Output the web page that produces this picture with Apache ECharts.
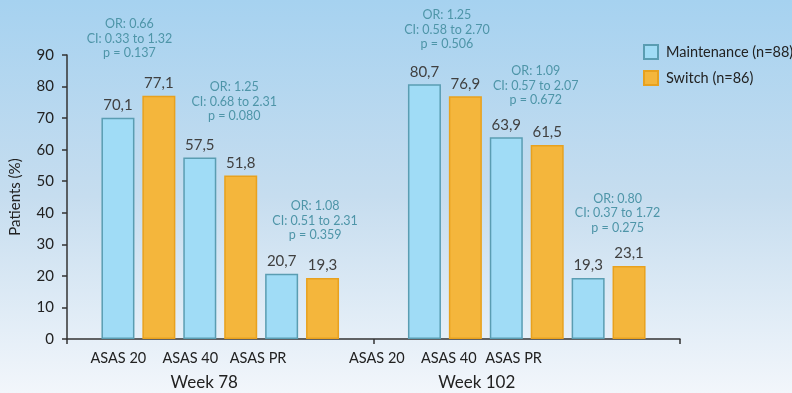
<!DOCTYPE html>
<html>
<head>
<meta charset="utf-8">
<script src="https://cdn.jsdelivr.net/npm/echarts@6/dist/echarts.min.js"></script>
<style>
  html, body { margin: 0; padding: 0; }
  #chart { width: 792px; height: 393px; }
</style>
</head>
<body>
<div id="chart"></div>
<script>
let weeks = ['Week 78', 'Week 102'];
let measures = ['ASAS 20', 'ASAS 40', 'ASAS PR'];

let maintW78 = [70.1, 57.5, 20.7];
let maintW102 = [80.7, 63.9, 19.3];
let switchW78 = [77.1, 51.8, 19.3];
let switchW102 = [76.9, 61.5, 23.1];

// odds ratio notes, one per week/measure pair
let orText = ['OR: 0.66', 'OR: 1.25', 'OR: 1.08', 'OR: 1.25', 'OR: 1.09', 'OR: 0.80'];
let ciText = ['CI: 0.33 to 1.32', 'CI: 0.68 to 2.31', 'CI: 0.51 to 2.31', 'CI: 0.58 to 2.70', 'CI: 0.57 to 2.07', 'CI: 0.37 to 1.72'];
let pText = ['p = 0.137', 'p = 0.080', 'p = 0.359', 'p = 0.506', 'p = 0.672', 'p = 0.275'];

// small nudges so the text sits like in the original slide
let annShiftX = [-9, 14, 13, 2, 9, 9];
let annLift = [42, 41, 38, 40, 37, 38];
let measureShiftX = [-20, -30, -44, -68, -78, -95];
let weekShiftX = [-16, -50];

let font = 'Lato, "Open Sans", sans-serif';
let maintName = 'Maintenance (n=88)';
let switchName = 'Switch (n=86)';

let valueLabel = {
  show: true,
  position: 'top',
  distance: 5,
  color: '#404040',
  fontSize: 15,
  fontFamily: font,
  formatter: function (p) { return String(p.value).replace('.', ','); }
};

let series = [];
measures.forEach(function (m, i) {
  series.push({
    name: maintName,
    type: 'bar',
    barWidth: 33,
    barGap: '24%',
    data: [maintW78[i], maintW102[i]],
    itemStyle: { color: '#a0dcf6', borderColor: '#5a9db2', borderWidth: 1.5 },
    label: valueLabel
  });
  series.push({
    name: switchName,
    type: 'bar',
    barWidth: 33,
    barGap: '24%',
    data: [switchW78[i], switchW102[i]],
    itemStyle: { color: '#f4b63c', borderColor: '#e8a11e', borderWidth: 1.5 },
    label: valueLabel
  });
});

let option = {
  animation: false,
  backgroundColor: {
    type: 'linear', x: 0, y: 0, x2: 0, y2: 1,
    colorStops: [
      { offset: 0, color: '#a6d2f0' },
      { offset: 0.5, color: '#c6ddef' },
      { offset: 1, color: '#f2f6fb' }
    ]
  },
  grid: { left: 62, right: 112, top: 55, bottom: 54 },
  legend: {
    orient: 'vertical',
    left: 638,
    top: 39,
    itemWidth: 14,
    itemHeight: 14,
    itemGap: 10,
    icon: 'rect',
    data: [maintName, switchName],
    textStyle: { fontSize: 14.5, color: '#222', fontFamily: font, padding: [0, 0, 0, 3] }
  },
  xAxis: {
    type: 'category',
    data: weeks,
    axisLine: { lineStyle: { color: '#333', width: 1.5 } },
    axisTick: { show: true, length: 5, lineStyle: { color: '#333', width: 1.5 } },
    axisLabel: { show: false }
  },
  yAxis: {
    type: 'value',
    min: 0,
    max: 90,
    interval: 10,
    name: 'Patients (%)',
    nameLocation: 'middle',
    nameRotate: 90,
    nameGap: 44,
    nameTextStyle: { fontSize: 15, color: '#222', fontFamily: font },
    splitLine: { show: false },
    axisLine: { show: true, lineStyle: { color: '#333', width: 1.5 } },
    axisTick: { show: true, length: 5, lineStyle: { color: '#333', width: 1.5 } },
    axisLabel: { fontSize: 15, color: '#222', fontFamily: font, margin: 13 }
  },
  series: series
};

let chart = echarts.init(document.getElementById('chart'));
chart.setOption(option);

// text placed from the bar layout the library computed
let model = chart.getModel();
let baseY = chart.convertToPixel({ yAxisIndex: 0 }, 0);
let graphics = [];
weeks.forEach(function (w, wi) {
  measures.forEach(function (m, mi) {
    let g = wi * 3 + mi;
    let lb = model.getSeriesByIndex(2 * mi).getData().getItemLayout(wi);
    let ls = model.getSeriesByIndex(2 * mi + 1).getData().getItemLayout(wi);
    let cx = (lb.x + ls.x + ls.width) / 2;
    let top = Math.min(lb.y, lb.y + lb.height, ls.y, ls.y + ls.height);
    graphics.push({
      type: 'text',
      x: cx + annShiftX[g],
      y: top - annLift[g] + 7,
      style: {
        text: [orText[g], ciText[g], pText[g]].join('\n'),
        align: 'center',
        verticalAlign: 'bottom',
        lineHeight: 14.5,
        font: '12.5px ' + font,
        fill: '#4e95a8'
      }
    });
    graphics.push({
      type: 'text',
      x: cx + measureShiftX[g],
      y: baseY + 19,
      style: {
        text: m,
        align: 'center',
        verticalAlign: 'middle',
        font: '14.5px ' + font,
        fill: '#222'
      }
    });
  });
  graphics.push({
    type: 'text',
    x: chart.convertToPixel({ xAxisIndex: 0 }, w) + weekShiftX[wi],
    y: baseY + 44,
    style: {
      text: w,
      align: 'center',
      verticalAlign: 'middle',
      font: '17px ' + font,
      fill: '#222'
    }
  });
});
chart.setOption({ graphic: graphics });
</script>
</body>
</html>
